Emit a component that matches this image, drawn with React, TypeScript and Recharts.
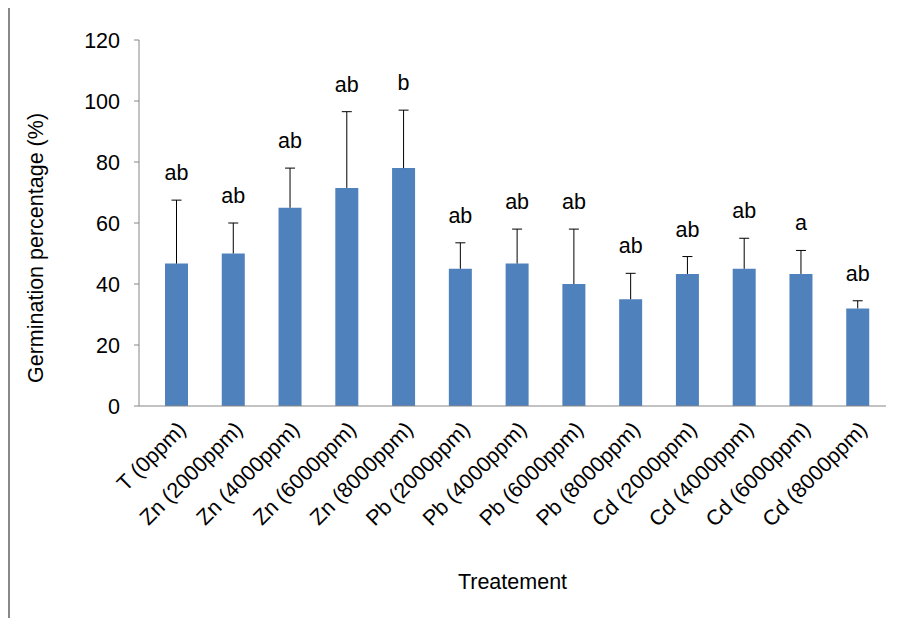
import React from 'react';
import { ComposedChart, Bar, XAxis, YAxis, LabelList } from 'recharts';

const categories = ['T (0ppm)', 'Zn (2000ppm)', 'Zn (4000ppm)', 'Zn (6000ppm)', 'Zn (8000ppm)', 'Pb (2000ppm)', 'Pb (4000ppm)', 'Pb (6000ppm)', 'Pb (8000ppm)', 'Cd (2000ppm)', 'Cd (4000ppm)', 'Cd (6000ppm)', 'Cd (8000ppm)'];
const means = [46.7, 50, 65, 71.5, 78, 45, 46.7, 40, 35, 43.3, 45, 43.3, 32];
const errors = [20.8, 10, 13, 25, 19, 8.5, 11.3, 18, 8.5, 5.7, 10, 7.7, 2.5];
const letters = ['ab', 'ab', 'ab', 'ab', 'b', 'ab', 'ab', 'ab', 'ab', 'ab', 'ab', 'a', 'ab'];
const yTicks = [0, 20, 40, 60, 80, 100, 120];

const data = categories.map((c, i) => ({ name: c, mean: means[i], err: errors[i], letter: letters[i] }));

const ErrShape = (p: any) => {
  const cx = p.x + p.width / 2;
  return (
    <g>
      <line x1={cx} x2={cx} y1={p.y} y2={p.y + p.height} stroke="#000" strokeWidth={1} />
      <line x1={cx - 5} x2={cx + 5} y1={p.y} y2={p.y} stroke="#000" strokeWidth={1} />
    </g>
  );
};

const XTick = (p: any) => (
  <text x={p.x} y={p.y + 6} textAnchor="end" transform={`rotate(-45 ${p.x} ${p.y + 6})`} fontSize={21.5} fill="#000" dominantBaseline="hanging">
    {p.payload.value}
  </text>
);

const YTitle = () => {
  const cx = 26;
  const cy = 240;
  return (
    <text x={cx} y={cy} transform={`rotate(-90 ${cx} ${cy})`} textAnchor="middle" dominantBaseline="central" fontSize={21.5} fill="#000">
      Germination percentage (%)
    </text>
  );
};

export default function App() {
  return (
    <div style={{ width: 885, height: 610, borderLeft: '2px solid #888', fontFamily: 'Liberation Sans, Arial, sans-serif' }}>
      <ComposedChart width={883} height={603} data={data} margin={{ top: 32, right: 7, left: 0, bottom: 0 }} barSize={23}>
        <XAxis dataKey="name" interval={0} tick={<XTick />} tickLine={false} axisLine={{ stroke: '#868686' }} height={205} padding={{ left: 9, right: 0 }}
          label={{ value: 'Treatement', position: 'insideBottom', offset: 22, fontSize: 21.5, fill: '#000' }} />
        <YAxis domain={[0, 120]} ticks={yTicks} width={129} tick={{ fontSize: 21.5, fill: '#000' }} tickSize={5} tickMargin={14} axisLine={{ stroke: '#868686' }} tickLine={{ stroke: '#868686' }}
          label={<YTitle />} />
        <Bar dataKey="mean" stackId="a" fill="#4f81bd" isAnimationActive={false} />
        <Bar dataKey="err" stackId="a" shape={<ErrShape />} isAnimationActive={false}>
          <LabelList dataKey="letter" position="top" offset={20} fontSize={21.5} fill="#000" />
        </Bar>
      </ComposedChart>
    </div>
  );
}
